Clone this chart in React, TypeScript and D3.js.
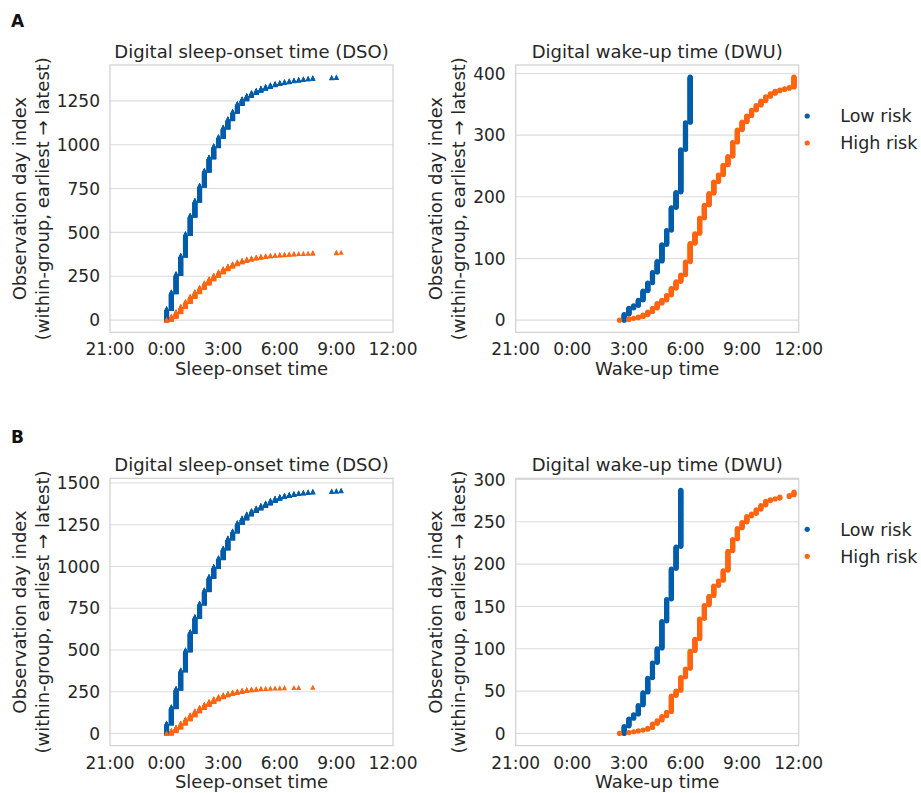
import React from 'react';
import * as d3 from 'd3';

const W = 921;
const H = 793;
const blue = '#005eab';
const orange = '#ff6410';
const ink = '#262626';
const font = 'DejaVu Sans, sans-serif';

const groups = ['Low risk', 'High risk'];
const xTicks = [-3, 0, 3, 6, 9, 12];
const xTickLabels = ['21:00', '0:00', '3:00', '6:00', '9:00', '12:00'];

// each entry: [15-min bin, last within-group observation index reaching that bin]
const aDsoLow: [string, number][] = [
  ['0:00', 66], ['0:15', 161], ['0:30', 265], ['0:45', 370], ['1:00', 493], ['1:15', 598],
  ['1:30', 683], ['1:45', 769], ['2:00', 854], ['2:15', 930], ['2:30', 994], ['2:45', 1046],
  ['3:00', 1100], ['3:15', 1148], ['3:30', 1190], ['3:45', 1235], ['4:00', 1261], ['4:15', 1281],
  ['4:30', 1297], ['4:45', 1310], ['5:00', 1322], ['5:15', 1332], ['5:30', 1341], ['5:45', 1348],
  ['6:00', 1354], ['6:15', 1359], ['6:30', 1364], ['6:45', 1368], ['7:00', 1372], ['7:15', 1375],
  ['7:30', 1378], ['7:45', 1381], ['8:45', 1383], ['9:00', 1385],
];
const aDsoHigh: [string, number][] = [
  ['0:00', 3], ['0:15', 22], ['0:30', 48], ['0:45', 78], ['1:00', 106], ['1:15', 135],
  ['1:30', 162], ['1:45', 187], ['2:00', 212], ['2:15', 235], ['2:30', 256], ['2:45', 275],
  ['3:00', 293], ['3:15', 308], ['3:30', 321], ['3:45', 332], ['4:00', 341], ['4:15', 348],
  ['4:30', 354], ['4:45', 359], ['5:00', 363], ['5:15', 366], ['5:30', 369], ['5:45', 371],
  ['6:00', 373], ['6:15', 375], ['6:30', 377], ['6:45', 379], ['7:00', 380], ['7:15', 381],
  ['7:30', 382], ['7:45', 384], ['9:00', 386], ['9:15', 387],
];
const aDwuLow: [string, number][] = [
  ['2:45', 9], ['3:00', 19], ['3:15', 23], ['3:30', 32], ['3:45', 47], ['4:00', 60],
  ['4:15', 77], ['4:30', 95], ['4:45', 122], ['5:00', 145], ['5:15', 182], ['5:30', 207],
  ['5:45', 276], ['6:00', 320], ['6:15', 394],
];
const aDwuHigh: [string, number][] = [
  ['2:30', 0], ['3:00', 2], ['3:15', 3], ['3:30', 5], ['3:45', 8], ['4:00', 13], ['4:15', 19],
  ['4:30', 27], ['4:45', 32], ['5:00', 40], ['5:15', 51], ['5:30', 62], ['5:45', 73],
  ['6:00', 94], ['6:15', 124], ['6:30', 140], ['6:45', 165], ['7:00', 186], ['7:15', 205],
  ['7:30', 224], ['7:45', 235], ['8:00', 251], ['8:15', 265], ['8:30', 288], ['8:45', 308],
  ['9:00', 321], ['9:15', 331], ['9:30', 340], ['9:45', 348], ['10:00', 355], ['10:15', 362],
  ['10:30', 367], ['10:45', 371], ['11:00', 373], ['11:15', 375], ['11:30', 377], ['11:45', 394],
];
const bDsoLow: [string, number][] = [
  ['0:00', 62], ['0:15', 160], ['0:30', 270], ['0:45', 380], ['1:00', 500], ['1:15', 610],
  ['1:30', 700], ['1:45', 780], ['2:00', 860], ['2:15', 940], ['2:30', 1000], ['2:45', 1052],
  ['3:00', 1110], ['3:15', 1170], ['3:30', 1212], ['3:45', 1262], ['4:00', 1290], ['4:15', 1314],
  ['4:30', 1334], ['4:45', 1350], ['5:00', 1365], ['5:15', 1380], ['5:30', 1395], ['5:45', 1408],
  ['6:00', 1418], ['6:15', 1425], ['6:30', 1431], ['6:45', 1436], ['7:00', 1440], ['7:15', 1443],
  ['7:30', 1446], ['7:45', 1449], ['8:45', 1451], ['9:00', 1453], ['9:15', 1455],
];
const bDsoHigh: [string, number][] = [
  ['0:00', 2], ['0:15', 18], ['0:30', 38], ['0:45', 62], ['1:00', 87], ['1:15', 111],
  ['1:30', 135], ['1:45', 156], ['2:00', 174], ['2:15', 191], ['2:30', 207], ['2:45', 220],
  ['3:00', 231], ['3:15', 240], ['3:30', 247], ['3:45', 253], ['4:00', 258], ['4:15', 262],
  ['4:30', 265], ['4:45', 267], ['5:00', 269], ['5:15', 270], ['5:30', 271], ['5:45', 272],
  ['6:00', 273], ['6:15', 274], ['6:45', 275], ['7:00', 276], ['7:45', 277],
];
const bDwuLow: [string, number][] = [
  ['2:45', 8], ['3:00', 17], ['3:15', 22], ['3:30', 33], ['3:45', 48], ['4:00', 65],
  ['4:15', 83], ['4:30', 100], ['4:45', 132], ['5:00', 158], ['5:15', 194], ['5:30', 220],
  ['5:45', 287],
];
const bDwuHigh: [string, number][] = [
  ['2:30', 0], ['3:00', 1], ['3:15', 2], ['3:30', 3], ['3:45', 4], ['4:00', 6], ['4:15', 11],
  ['4:30', 15], ['4:45', 20], ['5:00', 25], ['5:15', 44], ['5:30', 50], ['5:45', 66],
  ['6:00', 76], ['6:15', 97], ['6:30', 111], ['6:45', 135], ['7:00', 151], ['7:15', 162],
  ['7:30', 174], ['7:45', 180], ['8:00', 192], ['8:15', 215], ['8:30', 229], ['8:45', 242],
  ['9:00', 249], ['9:15', 256], ['9:30', 259], ['9:45', 264], ['10:00', 269], ['10:15', 274],
  ['10:30', 276], ['10:45', 277], ['11:00', 279], ['11:30', 281], ['11:45', 285],
];

const dsoTicksA = [0, 250, 500, 750, 1000, 1250];
const dwuTicksA = [0, 100, 200, 300, 400];
const dsoTicksB = [0, 250, 500, 750, 1000, 1250, 1500];
const dwuTicksB = [0, 50, 100, 150, 200, 250, 300];

const toHours = (t: string) => {
  const [h, m] = t.split(':').map(Number);
  return h + m / 60;
};

// one point per observation day: all indices up to the bin's last index sit at that bin
const expand = (steps: [string, number][]) => {
  const pts: [number, number][] = [];
  let i = 0;
  steps.forEach(([t, top]) => {
    const hr = toHours(t);
    for (; i <= top; i++) pts.push([hr, i]);
  });
  return pts;
};

const plotW = 283;
const plotH = 267.3;
const fs = 17; // tick labels, legend
const ls = 18; // titles, axis labels

type PanelProps = {
  x0: number;
  y0: number;
  title: string;
  xLabel: string;
  low: [string, number][];
  high: [string, number][];
  yTicks: number[];
  shape: 'tri' | 'dot';
  legend?: boolean;
};

const Panel = ({ x0, y0, title, xLabel, low, high, yTicks, shape, legend }: PanelProps) => {
  const lowPts = expand(low);
  const highPts = expand(high);
  const max = d3.max([...lowPts, ...highPts], (d) => d[1]) as number;
  const x = d3.scaleLinear().domain([-3, 12]).range([x0, x0 + plotW]);
  const y = d3.scaleLinear().domain([-0.05 * max, 1.05 * max]).range([y0 + plotH, y0]);
  const s = 2.6;
  const tri = `M0,${-s}L${s},${s}L${-s},${s}Z`;
  const mark = (pts: [number, number][], color: string) =>
    pts.map(([t, i], k) =>
      shape === 'tri' ? (
        <path key={k} d={tri} transform={`translate(${x(t)},${y(i)})`} fill={color} />
      ) : (
        <circle key={k} cx={x(t)} cy={y(i)} r={2.6} fill={color} />
      )
    );
  const digits = String(yTicks[yTicks.length - 1]).length;
  const labelLeft = x0 - 10 - digits * 0.636 * fs;
  const line2 = labelLeft - 8;
  const cy = y0 + plotH / 2;
  return (
    <g fontFamily={font} fill={ink}>
      {yTicks.map((v) => (
        <line key={v} x1={x0} x2={x0 + plotW} y1={y(v)} y2={y(v)} stroke="#dcdcdc" strokeWidth={1.1} />
      ))}
      <rect x={x0} y={y0} width={plotW} height={plotH} fill="none" stroke="#d0d0d0" strokeWidth={1.2} />
      {mark(lowPts, blue)}
      {mark(highPts, orange)}
      {yTicks.map((v) => (
        <text key={v} x={x0 - 10} y={y(v)} dy="0.36em" textAnchor="end" fontSize={fs}>
          {v}
        </text>
      ))}
      {xTicks.map((v, k) => (
        <text key={v} x={x(v)} y={y0 + plotH + 23} textAnchor="middle" fontSize={fs}>
          {xTickLabels[k]}
        </text>
      ))}
      <text x={x0 + plotW / 2} y={y0 + plotH + 42.5} textAnchor="middle" fontSize={ls}>
        {xLabel}
      </text>
      <text x={x0 + plotW / 2} y={y0 - 7} textAnchor="middle" fontSize={ls}>
        {title}
      </text>
      <text transform={`translate(${line2 - 23},${cy}) rotate(-90)`} textAnchor="middle" fontSize={ls}>
        Observation day index
      </text>
      <text transform={`translate(${line2},${cy}) rotate(-90)`} textAnchor="middle" fontSize={ls}>
        (within-group, earliest → latest)
      </text>
      {legend &&
        groups.map((g, k) => (
          <g key={g}>
            <circle cx={x0 + plotW + 8.5} cy={y0 + 51 + k * 27} r={2.6} fill={k === 0 ? blue : orange} />
            <text x={x0 + plotW + 41.5} y={y0 + 51 + k * 27} dy="0.36em" fontSize={17.5}>
              {g}
            </text>
          </g>
        ))}
    </g>
  );
};

const App = () => {
  const top = [65, 478.3];
  const left = [110, 515.7];
  return (
    <svg width={W} height={H} style={{ position: 'absolute', left: 0, top: 0, background: '#fff' }}>
      <text x={11} y={27} fontFamily={font} fontWeight="bold" fontSize={17} fill="#111">A</text>
      <text x={11} y={443} fontFamily={font} fontWeight="bold" fontSize={17} fill="#111">B</text>
      <Panel x0={left[0]} y0={top[0]} title="Digital sleep-onset time (DSO)" xLabel="Sleep-onset time"
        low={aDsoLow} high={aDsoHigh} yTicks={dsoTicksA} shape="tri" />
      <Panel x0={left[1]} y0={top[0]} title="Digital wake-up time (DWU)" xLabel="Wake-up time"
        low={aDwuLow} high={aDwuHigh} yTicks={dwuTicksA} shape="dot" legend />
      <Panel x0={left[0]} y0={top[1]} title="Digital sleep-onset time (DSO)" xLabel="Sleep-onset time"
        low={bDsoLow} high={bDsoHigh} yTicks={dsoTicksB} shape="tri" />
      <Panel x0={left[1]} y0={top[1]} title="Digital wake-up time (DWU)" xLabel="Wake-up time"
        low={bDwuLow} high={bDwuHigh} yTicks={dwuTicksB} shape="dot" legend />
    </svg>
  );
};

export default App;
